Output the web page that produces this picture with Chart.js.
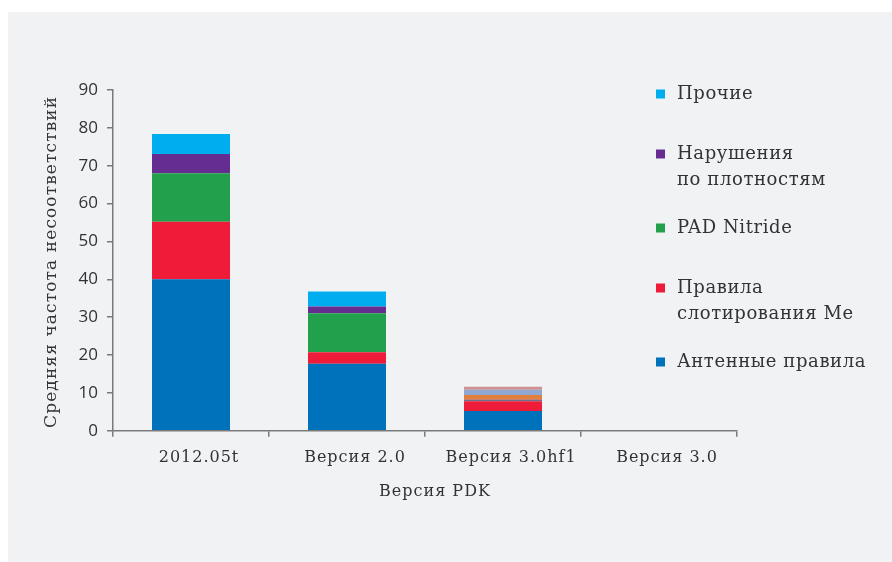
<!DOCTYPE html>
<html lang="ru">
<head>
<meta charset="utf-8">
<title>Средняя частота несоответствий по версиям PDK</title>
<script src="https://cdn.jsdelivr.net/npm/chart.js@4/dist/chart.umd.min.js"></script>
<style>
  html, body { margin: 0; padding: 0; background: #ffffff; }
  #wrap { position: relative; width: 892px; height: 562px; }
</style>
</head>
<body>
<div id="wrap"><canvas id="chart"></canvas></div>
<script>
// PDK versions on the x axis
const categories = ['2012.05t', 'Версия 2.0', 'Версия 3.0hf1', 'Версия 3.0'];

// Average violation frequency per rule group (stack order: bottom to top)
const antennaRules   = [40.0, 17.7, 5.2, 0];
const metalSlotting  = [15.2, 3.0, 2.6, 0];
const padNitride     = [12.8, 10.3, 0.1, 0];
const densityRules   = [5.1, 1.8, 0.3, 0];
const otherRules     = [5.3, 4.0, 0, 0];
// minor groups that appear only in the hotfix release
const minorGroupA    = [0, 0, 1.2, 0];
const minorGroupB    = [0, 0, 1.4, 0];
const minorGroupC    = [0, 0, 0.8, 0];

const yTicks = [0, 10, 20, 30, 40, 50, 60, 70, 80, 90];

const seriesNames = [
  'Антенные правила',
  'Правила\nслотирования Me',
  'PAD Nitride',
  'Нарушения\nпо плотностям',
  'Прочие'
];
const seriesColors = ['#0071bb', '#ee1c39', '#22a04b', '#662d91', '#00aeef'];
const minorColors  = ['#e0803a', '#8fa7d1', '#d19090'];

const xTitle = 'Версия PDK';
const yTitle = 'Средняя частота несоответствий';

const serif = "'DejaVu Serif', serif";
const sans = "'Open Sans', sans-serif";
const textColor = '#333333';
const axisColor = '#7a7a7a';

const mainData = [antennaRules, metalSlotting, padNitride, densityRules, otherRules];
const minorData = [minorGroupA, minorGroupB, minorGroupC];

const datasets = mainData.map((d, i) => ({
  label: seriesNames[i].replace('\n', ' '),
  data: d,
  backgroundColor: seriesColors[i],
  inLegend: true
})).concat(minorData.map((d, i) => ({
  label: 'Прочие ' + (i + 1),
  data: d,
  backgroundColor: minorColors[i],
  inLegend: false
})));

// grey panel behind the chart
const panelPlugin = {
  id: 'panel',
  beforeDraw(chart) {
    const ctx = chart.ctx;
    ctx.save();
    ctx.fillStyle = '#f1f2f4';
    ctx.fillRect(8, 12, chart.width - 8, chart.height - 12);
    ctx.restore();
  }
};

// serif texts with a little tracking: category labels and axis titles
const axisText = {
  id: 'axisText',
  afterDraw(chart) {
    const ctx = chart.ctx;
    const xs = chart.scales.x, ys = chart.scales.y;
    ctx.save();
    ctx.fillStyle = textColor;
    ctx.textBaseline = 'middle';
    ctx.textAlign = 'center';
    ctx.letterSpacing = '1px';
    ctx.font = '16px ' + serif;
    categories.forEach((c, i) => {
      ctx.fillText(c, xs.getPixelForTick(i) + 8, xs.top + 27);
    });
    ctx.fillText(xTitle, (xs.left + xs.right) / 2 + 10, xs.top + 61);
    ctx.translate(52, (ys.top + ys.bottom) / 2 + 2);
    ctx.rotate(-Math.PI / 2);
    ctx.font = '17px ' + serif;
    ctx.letterSpacing = '1.1px';
    ctx.fillText(yTitle, 0.5, 0);
    ctx.restore();
  }
};

// legend on the right, listed top to bottom with multi-line labels
const sideLegend = {
  id: 'sideLegend',
  afterDraw(chart) {
    const ctx = chart.ctx;
    const items = chart.data.datasets
      .map((ds, i) => ({ ds, name: seriesNames[i] }))
      .filter(it => it.ds.inLegend)
      .reverse();
    const boxX = 656, textX = 677, box = 9, lineH = 26;
    let y = 94;
    ctx.save();
    ctx.font = '18px ' + serif;
    ctx.letterSpacing = '0.6px';
    ctx.textBaseline = 'middle';
    ctx.textAlign = 'left';
    items.forEach(it => {
      const lines = it.name.split('\n');
      ctx.fillStyle = it.ds.backgroundColor;
      ctx.fillRect(boxX, y - box / 2, box, box);
      ctx.fillStyle = textColor;
      lines.forEach((ln, k) => ctx.fillText(ln, textX, y + k * lineH));
      y += 60 + (lines.length - 1) * 14;
    });
    ctx.restore();
  }
};

new Chart(document.getElementById('chart'), {
  type: 'bar',
  data: { labels: categories, datasets },
  options: {
    responsive: true,
    maintainAspectRatio: false,
    animation: false,
    layout: { padding: { left: 0, right: 155, top: 90, bottom: 0 } },
    datasets: { bar: { categoryPercentage: 1.0, barPercentage: 0.5 } },
    plugins: { legend: { display: false }, tooltip: { enabled: false } },
    scales: {
      x: {
        stacked: true,
        afterFit(scale) { scale.height = 131.3; },
        border: { color: axisColor, width: 1.5 },
        grid: { display: true, drawOnChartArea: false, drawTicks: true, tickLength: 6, color: axisColor, lineWidth: 1.5, offset: true },
        ticks: { display: false }
      },
      y: {
        stacked: true,
        min: 0,
        max: 90,
        afterFit(scale) { scale.width = 113; },
        afterBuildTicks(scale) { scale.ticks = yTicks.map(v => ({ value: v })); },
        border: { color: axisColor, width: 1.5 },
        grid: { display: true, drawOnChartArea: false, drawTicks: true, tickLength: 6, color: axisColor, lineWidth: 1.5 },
        ticks: { color: textColor, font: { family: sans, size: 17 }, padding: 9 }
      }
    }
  },
  plugins: [panelPlugin, axisText, sideLegend]
});
</script>
</body>
</html>
